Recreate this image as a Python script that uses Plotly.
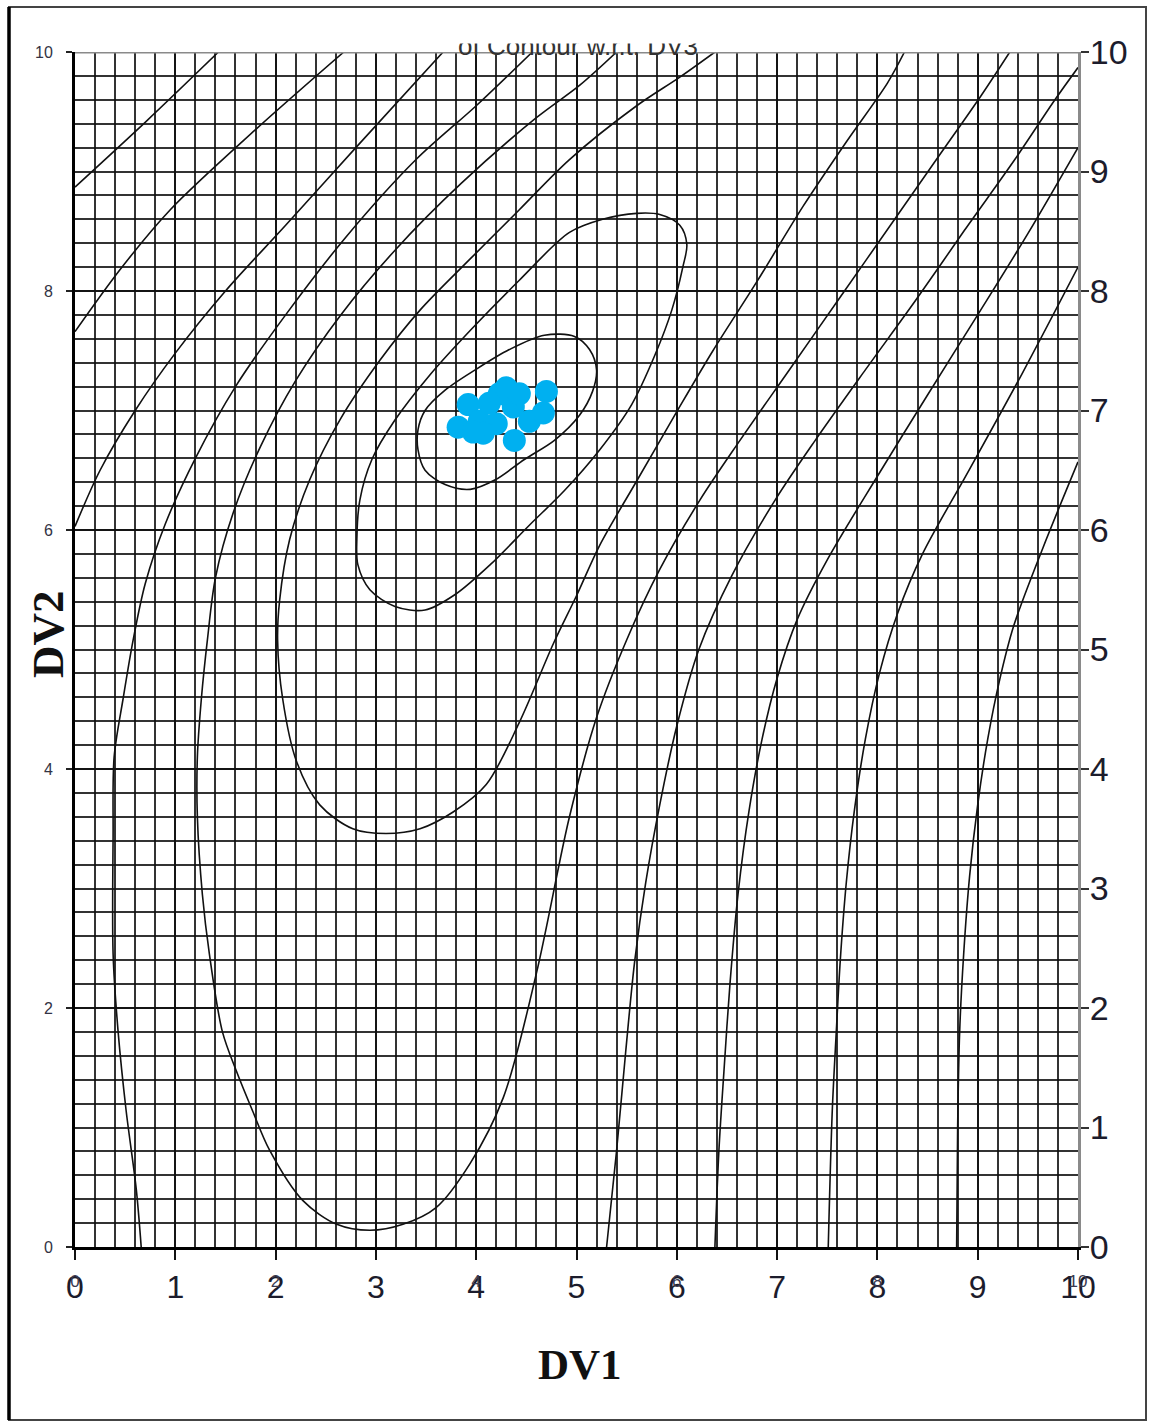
import plotly.graph_objects as go

# ---------------- axis ticks ----------------
x_ticks = list(range(0, 11))
x_even_ticks = [0, 2, 4, 6, 8, 10]
y_left_ticks = [0, 2, 4, 6, 8, 10]
y_right_ticks = list(range(0, 11))

# ---------------- optimisation runs (DV1, DV2) ----------------
run_dv1 = [3.82, 3.92, 4.03, 4.13, 4.23, 4.30, 4.20, 4.38, 4.37, 4.53, 4.67, 4.70, 4.07, 4.43, 3.97]
run_dv2 = [6.86, 7.05, 6.91, 7.06, 7.14, 7.19, 6.89, 6.75, 7.03, 6.91, 6.98, 7.16, 6.81, 7.14, 6.82]

# ---------------- contour lines ----------------
# innermost closed contour
c1_x = [3.42, 3.49, 3.69, 3.99, 4.33, 4.68, 4.98, 5.13, 5.20, 5.16, 5.03, 4.78, 4.48, 4.19, 3.94, 3.69, 3.49, 3.42, 3.42]
c1_y = [6.84, 7.00, 7.17, 7.34, 7.51, 7.63, 7.62, 7.51, 7.34, 7.16, 6.96, 6.75, 6.59, 6.42, 6.34, 6.38, 6.50, 6.67, 6.84]

# second closed contour
c2_x = [2.81, 2.84, 2.96, 3.19, 3.54, 3.94, 4.43, 4.93, 5.26, 5.60, 5.83, 6.03, 6.10, 6.06, 5.95, 5.78,
        5.55, 5.23, 4.88, 4.53, 4.14, 3.79, 3.49, 3.19, 2.94, 2.82, 2.81]
c2_y = [5.92, 6.25, 6.59, 6.92, 7.30, 7.67, 8.09, 8.49, 8.60, 8.65, 8.64, 8.55, 8.39, 8.20, 7.84, 7.46,
        7.05, 6.67, 6.33, 6.04, 5.71, 5.46, 5.33, 5.36, 5.50, 5.71, 5.92]

# third contour (open at the top edge)
c3_x = [6.38, 6.03, 5.60, 4.93, 4.43, 3.93, 3.44, 3.04, 2.64, 2.34, 2.14, 2.04, 2.02, 2.07, 2.21, 2.44,
        2.77, 3.10, 3.44, 3.77, 4.10, 4.43, 4.77, 5.00, 5.23, 5.60, 6.00, 6.36, 6.80, 7.26, 7.70, 8.10, 8.27]
c3_y = [10.0, 9.79, 9.55, 9.10, 8.68, 8.26, 7.84, 7.42, 6.92, 6.42, 5.92, 5.41, 5.08, 4.59, 4.06, 3.70,
        3.50, 3.46, 3.50, 3.64, 3.87, 4.39, 5.05, 5.45, 5.87, 6.41, 6.99, 7.50, 8.08, 8.71, 9.26, 9.74, 10.0]

# fourth contour (U shape down to the bottom edge)
c4_x = [5.40, 5.03, 4.60, 3.85, 3.20, 2.65, 2.20, 1.85, 1.58, 1.40, 1.32, 1.26, 1.22, 1.22, 1.27, 1.34,
        1.47, 1.61, 1.77, 1.94, 2.27, 2.61, 2.94, 3.27, 3.60, 3.94, 4.27, 4.60, 4.93, 5.20, 5.50, 5.83,
        6.23, 6.63, 7.13, 7.63, 8.13, 8.63, 9.03, 9.32]
c4_y = [10.0, 9.72, 9.45, 8.90, 8.35, 7.80, 7.25, 6.70, 6.15, 5.60, 5.08, 4.59, 4.10, 3.60, 2.95, 2.45,
        1.80, 1.47, 1.14, 0.81, 0.39, 0.19, 0.14, 0.19, 0.33, 0.70, 1.25, 2.29, 3.60, 4.43, 5.08, 5.67,
        6.25, 6.75, 7.35, 7.95, 8.55, 9.15, 9.63, 10.0]

# fifth contour: left branch and right branch
c5a_x = [0.66, 0.61, 0.51, 0.43, 0.38, 0.38, 0.39, 0.48, 0.58, 0.70, 0.90, 1.20, 1.60, 2.10, 2.70, 3.40, 4.00, 4.56]
c5a_y = [0.00, 0.49, 1.14, 1.80, 2.45, 3.44, 4.10, 4.59, 5.08, 5.55, 6.05, 6.60, 7.20, 7.80, 8.45, 9.10, 9.55, 10.0]
c5b_x = [5.30, 5.40, 5.49, 5.58, 5.69, 5.83, 6.00, 6.22, 6.55, 6.98, 7.38, 7.88, 8.38, 8.87, 9.37, 9.77, 10.0]
c5b_y = [0.00, 0.81, 1.63, 2.39, 3.05, 3.70, 4.36, 5.00, 5.62, 6.25, 6.75, 7.34, 7.92, 8.51, 9.10, 9.60, 9.87]

# sixth contour
c6a_x = [0.00, 0.25, 0.60, 1.00, 1.50, 2.10, 2.80, 3.67]
c6a_y = [6.03, 6.50, 7.00, 7.48, 8.00, 8.55, 9.20, 10.0]
c6b_x = [6.38, 6.42, 6.47, 6.53, 6.61, 6.72, 6.85, 7.00, 7.20, 7.50, 8.00, 8.50, 9.00, 9.50, 10.0]
c6b_y = [0.00, 0.81, 1.47, 2.20, 2.95, 3.65, 4.25, 4.76, 5.25, 5.75, 6.45, 7.13, 7.80, 8.48, 9.20]

# seventh contour
c7a_x = [0.00, 0.45, 0.95, 1.80, 2.68]
c7a_y = [7.66, 8.18, 8.68, 9.35, 10.0]
c7b_x = [7.51, 7.55, 7.59, 7.63, 7.69, 7.77, 7.88, 8.02, 8.20, 8.45, 8.90, 9.45, 10.0]
c7b_y = [0.00, 1.14, 1.80, 2.40, 3.05, 3.65, 4.25, 4.80, 5.30, 5.80, 6.48, 7.32, 8.20]

# eighth contour
c8a_x = [0.00, 0.71, 1.43]
c8a_y = [8.87, 9.42, 10.0]
c8b_x = [8.79, 8.80, 8.82, 8.86, 8.92, 9.00, 9.10, 9.22, 9.36, 9.65, 10.0]
c8b_y = [0.00, 1.00, 1.80, 2.45, 3.11, 3.70, 4.25, 4.75, 5.20, 5.85, 6.57]

contours = [
    (c1_x, c1_y), (c2_x, c2_y), (c3_x, c3_y), (c4_x, c4_y),
    (c5a_x, c5a_y), (c5b_x, c5b_y), (c6a_x, c6a_y), (c6b_x, c6b_y),
    (c7a_x, c7a_y), (c7b_x, c7b_y), (c8a_x, c8a_y), (c8b_x, c8b_y),
]

# ---------------- page geometry ----------------
W, H = 1149, 1424
L, R, T, B = 75, 1078, 52, 1247


def px(x):
    return (x - L) / (R - L)


def py(y):
    return (B - y) / (B - T)


GRID = "rgba(15,15,15,0.85)"
fig = go.Figure()

for cx, cy in contours:
    fig.add_trace(go.Scatter(
        x=cx, y=cy, mode="lines",
        line=dict(color="#111111", width=1.6, shape="spline", smoothing=0.9),
        hoverinfo="skip", showlegend=False, cliponaxis=True,
    ))

fig.add_trace(go.Scatter(
    x=run_dv1, y=run_dv2, mode="markers",
    marker=dict(color="#00B0F0", size=23, line=dict(width=0)),
    showlegend=False,
))

# carrier for the secondary axes
fig.add_trace(go.Scatter(x=[None], y=[None], xaxis="x2", yaxis="y2",
                         showlegend=False, hoverinfo="skip"))

fig.update_layout(
    width=W, height=H,
    margin=dict(l=L, r=W - R, t=T, b=H - B),
    paper_bgcolor="white", plot_bgcolor="white",
    showlegend=False,
    xaxis=dict(
        range=[0, 10], tickvals=x_ticks, ticktext=[str(v) for v in x_ticks],
        tickfont=dict(family="Liberation Sans, Arial", size=32, color="#1c1c2c"),
        ticks="outside", ticklen=10, tickwidth=2, tickcolor="#111",
        ticklabelstandoff=0,
        showline=True, linecolor="#000", linewidth=3,
        showgrid=True, gridcolor=GRID, gridwidth=2.2,
        minor=dict(dtick=0.2, showgrid=True, gridcolor=GRID, gridwidth=2.2, ticks=""),
        zeroline=False, fixedrange=True,
    ),
    xaxis2=dict(
        overlaying="x", side="bottom", anchor="y",
        range=[0, 10], tickvals=x_even_ticks, ticktext=[str(v) for v in x_even_ticks],
        tickfont=dict(family="Liberation Sans, Arial", size=17, color="#3a3a50"),
        ticks="", ticklabelstandoff=22,
        showline=False, showgrid=False, zeroline=False,
    ),
    yaxis=dict(
        range=[0, 10], tickvals=y_left_ticks, ticktext=[str(v) for v in y_left_ticks],
        tickfont=dict(family="Liberation Sans, Arial", size=16, color="#333344"),
        ticks="outside", ticklen=6, tickwidth=2, tickcolor="#222",
        ticklabelstandoff=10,
        showline=True, linecolor="#000", linewidth=3,
        showgrid=True, gridcolor=GRID, gridwidth=2.2,
        minor=dict(dtick=0.2, showgrid=True, gridcolor=GRID, gridwidth=2.2, ticks=""),
        zeroline=False, fixedrange=True,
    ),
    yaxis2=dict(
        overlaying="y", side="right", anchor="x2",
        range=[0, 10], tickvals=y_right_ticks, ticktext=[str(v) for v in y_right_ticks],
        tickfont=dict(family="Liberation Sans, Arial", size=34, color="#1c1c2c"),
        ticks="outside", ticklen=8, tickwidth=2, tickcolor="#333",
        ticklabelstandoff=-6,
        showline=True, linecolor="#8a8a8a", linewidth=3,
        showgrid=False, zeroline=False,
    ),
)

shapes = [
    # top edge of the plot area
    dict(type="line", xref="x", yref="y", x0=0, x1=10, y0=10, y1=10,
         line=dict(color="#8a8a8a", width=3), layer="above"),
    # outer frame
    dict(type="rect", xref="paper", yref="paper",
         x0=px(9), x1=px(1146), y0=py(1420), y1=py(7),
         line=dict(color="#444", width=2), layer="above"),
    dict(type="line", xref="paper", yref="paper",
         x0=px(9), x1=px(9), y0=py(1420), y1=py(7),
         line=dict(color="#000", width=3.5), layer="above"),
]
fig.update_layout(shapes=shapes)

# chart title; its upper half sits behind a white band
fig.add_annotation(
    text="of Contour w.r.t. DV3", xref="paper", yref="paper",
    x=px(578), y=py(62), xanchor="center", yanchor="bottom", showarrow=False,
    font=dict(family="Liberation Sans, Arial", size=26, color="#333333"),
    borderpad=0,
)
fig.add_annotation(
    text=" ", xref="paper", yref="paper",
    x=px(578), y=py(44), xanchor="center", yanchor="bottom", showarrow=False,
    width=330, height=33, bgcolor="white", borderpad=0,
    font=dict(size=10),
)

fig.add_annotation(
    text="<b>DV1</b>", xref="paper", yref="paper",
    x=px(580), y=py(1364), xanchor="center", yanchor="middle", showarrow=False,
    font=dict(family="Liberation Serif, Times New Roman", size=43, color="#111"),
)
fig.add_annotation(
    text="<b>DV2</b>", xref="paper", yref="paper", textangle=-90,
    x=px(48), y=py(634), xanchor="center", yanchor="middle", showarrow=False,
    font=dict(family="Liberation Serif, Times New Roman", size=45, color="#111"),
)

fig.write_html("out.html")
